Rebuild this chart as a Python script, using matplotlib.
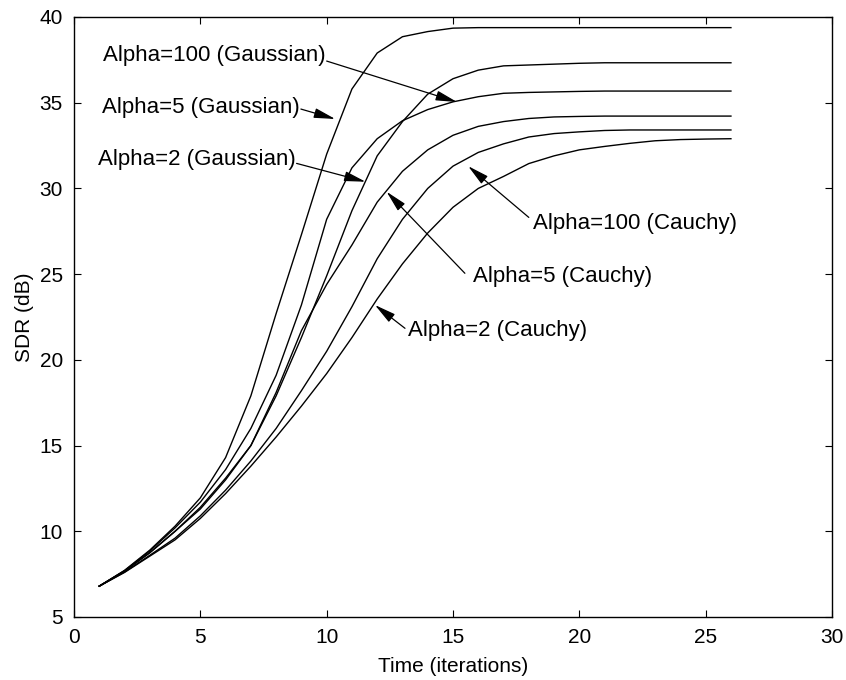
import numpy as np
import matplotlib
matplotlib.use("Agg")
import matplotlib.pyplot as plt

plt.rcParams['font.family'] = ['Liberation Sans', 'DejaVu Sans']

# iterations 1..26
t = np.arange(1, 27)

# SDR (dB), one list per run
a5_gauss = [6.8, 7.72, 8.9, 10.3, 11.95, 14.3, 17.9, 22.7, 27.3, 32.0, 35.8, 37.9, 38.85,
            39.15, 39.35, 39.38, 39.38, 39.38, 39.38, 39.38, 39.38, 39.38, 39.38, 39.38, 39.38, 39.38]
a100_gauss = [6.8, 7.7, 8.85, 10.2, 11.7, 13.6, 16.0, 19.1, 23.2, 28.2, 31.2, 32.9, 33.95,
              34.6, 35.05, 35.35, 35.55, 35.6, 35.63, 35.66, 35.68, 35.68, 35.68, 35.68, 35.68, 35.68]
a2_gauss = [6.8, 7.68, 8.75, 10.0, 11.4, 13.1, 15.0, 17.9, 21.3, 24.9, 28.7, 31.9, 33.9,
            35.5, 36.4, 36.9, 37.15, 37.2, 37.25, 37.3, 37.33, 37.33, 37.33, 37.33, 37.33, 37.33]
a100_cauchy = [6.8, 7.68, 8.75, 10.0, 11.3, 13.0, 15.0, 18.1, 21.7, 24.4, 26.7, 29.2, 31.0,
               32.25, 33.1, 33.62, 33.9, 34.08, 34.17, 34.2, 34.22, 34.22, 34.22, 34.22, 34.22, 34.22]
a5_cauchy = [6.8, 7.62, 8.6, 9.6, 10.9, 12.4, 14.1, 16.0, 18.2, 20.5, 23.1, 25.9, 28.2,
             30.0, 31.3, 32.1, 32.6, 33.0, 33.2, 33.3, 33.38, 33.41, 33.41, 33.41, 33.41, 33.41]
a2_cauchy = [6.8, 7.6, 8.55, 9.5, 10.75, 12.2, 13.8, 15.5, 17.3, 19.2, 21.3, 23.55, 25.6,
             27.4, 28.9, 30.0, 30.7, 31.45, 31.9, 32.25, 32.45, 32.63, 32.78, 32.85, 32.88, 32.9]

# label, text position, arrow start, arrow tip (data coords)
notes = [
    ("Alpha=100 (Gaussian)", (1.13, 37.78), (10.0, 37.43), (15.16, 35.04)),
    ("Alpha=5 (Gaussian)", (1.1, 34.73), (8.98, 34.63), (10.34, 34.05)),
    ("Alpha=2 (Gaussian)", (0.94, 31.7), (8.81, 31.46), (11.54, 30.39)),
    ("Alpha=100 (Cauchy)", (18.18, 27.96), (18.0, 28.31), (15.6, 31.3)),
    ("Alpha=5 (Cauchy)", (15.8, 24.85), (15.47, 25.05), (12.37, 29.81)),
    ("Alpha=2 (Cauchy)", (13.23, 21.74), (13.1, 21.84), (11.91, 23.2)),
]

fig = plt.figure(figsize=(8.46, 6.8), dpi=100)
ax = fig.add_axes([74 / 846, 1 - 617 / 680, (832 - 74) / 846, (617 - 17) / 680])

for y in [a5_gauss, a100_gauss, a2_gauss, a100_cauchy, a5_cauchy, a2_cauchy]:
    ax.plot(t, y, color='k', lw=1.0)

for label, txt, start, tip in notes:
    ax.text(txt[0], txt[1], label, fontsize=16, ha='left', va='center')
    ax.annotate('', xy=tip, xytext=start,
                arrowprops=dict(arrowstyle='-|>,head_length=1.3,head_width=0.3',
                                color='k', lw=0.9, mutation_scale=10,
                                shrinkA=0, shrinkB=0))

ax.set_xlim(0, 30)
ax.set_ylim(5, 40)
ax.set_xticks(range(0, 31, 5))
ax.set_yticks(range(5, 41, 5))
ax.tick_params(direction='in', top=True, right=True, length=5, labelsize=15, pad=8)
for s in ax.spines.values():
    s.set_linewidth(1.0)
ax.set_xlabel("Time (iterations)", fontsize=15, labelpad=7)
ax.set_ylabel("SDR (dB)", fontsize=15, labelpad=4)

fig.savefig("out.png", dpi=100)
